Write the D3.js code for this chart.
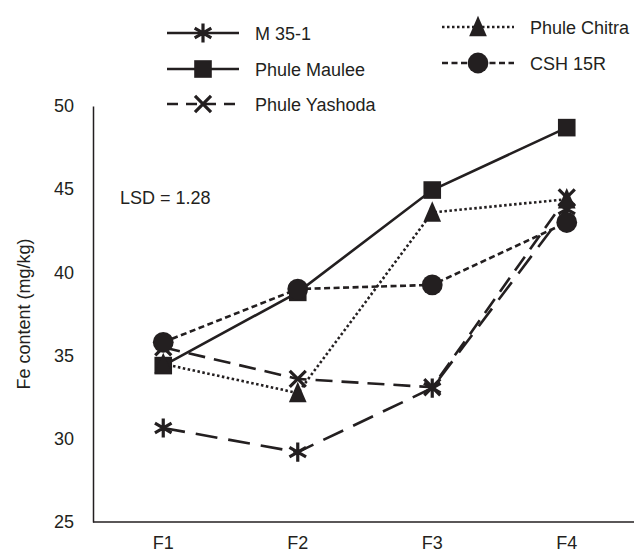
<!DOCTYPE html>
<html>
<head>
<meta charset="utf-8">
<script src="https://cdn.jsdelivr.net/npm/d3@7"></script>
<style>
  body { margin: 0; background: #fff; }
  text { font-family: "Liberation Sans", Arial, sans-serif; fill: #231f20; }
</style>
</head>
<body>
<div id="chart"></div>
<script>
var categories = ["F1", "F2", "F3", "F4"];
var seriesNames = ["M 35-1", "Phule Maulee", "Phule Yashoda", "Phule Chitra", "CSH 15R"];
var m351 = [30.65, 29.2, 33.05, 43.8];
var phuleMaulee = [34.4, 38.8, 44.95, 48.7];
var phuleYashoda = [35.5, 33.6, 33.1, 44.5];
var phuleChitra = [34.5, 32.75, 43.6, 44.4];
var csh15r = [35.8, 39.0, 39.25, 43.0];
var yTicks = [25, 30, 35, 40, 45, 50];
var lsdLabel = "LSD = 1.28";

var ink = "#231f20";
var fs = 18;

var svg = d3.select("#chart").append("svg")
    .attr("width", 637)
    .attr("height", 555);

var x = d3.scaleBand().domain(categories).range([96, 634]);
var y = d3.scaleLinear().domain([25, 50]).range([522, 106]);

// taller triangle like the excel marker
var tallTriangle = {
    draw: function(context, size) {
        var h = Math.sqrt(size) * 1.45, w = Math.sqrt(size) * 1.25;
        context.moveTo(0, -h * 0.55);
        context.lineTo(w / 2, h * 0.45);
        context.lineTo(-w / 2, h * 0.45);
        context.closePath();
    }
};

var styles = [
    {dash: "22,11", legendDash: null, sym: d3.symbolAsterisk, size: 260, stroke: true},
    {dash: null, legendDash: null, sym: d3.symbolSquare, size: 310, stroke: false},
    {dash: "17,9", legendDash: "11,8", sym: d3.symbolTimes, size: 170, stroke: true},
    {dash: "2.5,2.5", legendDash: "2.5,2.5", sym: tallTriangle, size: 200, stroke: false},
    {dash: "6,3.5", legendDash: "6,3.5", sym: d3.symbolCircle, size: 340, stroke: false}
];
var values = [m351, phuleMaulee, phuleYashoda, phuleChitra, csh15r];

// axes
svg.append("g")
    .attr("transform", "translate(93,0)")
    .call(d3.axisLeft(y).tickValues(yTicks).tickSize(0).tickPadding(19).tickFormat(d3.format("d")))
    .call(function(g) {
        g.select(".domain").attr("stroke", ink).attr("stroke-width", 1.5);
        g.selectAll("text").attr("font-size", fs).style("fill", ink);
    });

svg.append("line")
    .attr("x1", 93).attr("x2", 634)
    .attr("y1", y(25)).attr("y2", y(25))
    .attr("stroke", ink).attr("stroke-width", 1.5);

svg.append("g")
    .attr("transform", "translate(0," + y(25) + ")")
    .call(d3.axisBottom(x).tickSize(0).tickPadding(14))
    .call(function(g) {
        g.select(".domain").remove();
        g.selectAll("text").attr("font-size", fs).style("fill", ink);
    });

svg.append("text")
    .attr("transform", "translate(30," + ((y(25) + y(50)) / 2) + ") rotate(-90)")
    .attr("text-anchor", "middle")
    .attr("font-size", fs)
    .text("Fe content (mg/kg)");

svg.append("text")
    .attr("x", 120).attr("y", 204)
    .attr("font-size", fs)
    .text(lsdLabel);

// lines
var line = d3.line()
    .x(function(d, i) { return x(categories[i]) + x.bandwidth() / 2; })
    .y(function(d) { return y(d); });

function drawMarker(g, st) {
    var p = g.append("path").attr("d", d3.symbol().type(st.sym).size(st.size)());
    if (st.stroke) p.attr("fill", "none").attr("stroke", ink).attr("stroke-width", 3.2);
    else p.attr("fill", ink);
    return p;
}

values.forEach(function(vals, s) {
    var st = styles[s];
    svg.append("path")
        .datum(vals)
        .attr("fill", "none")
        .attr("stroke", ink)
        .attr("stroke-width", 2.6)
        .attr("stroke-dasharray", st.dash)
        .attr("d", line);
});

values.forEach(function(vals, s) {
    var st = styles[s];
    vals.forEach(function(v, i) {
        var g = svg.append("g")
            .attr("transform", "translate(" + (x(categories[i]) + x.bandwidth() / 2) + "," + y(v) + ")");
        drawMarker(g, st);
    });
});

// legend
var legendPos = [
    {x: 167, y: 33}, {x: 167, y: 69}, {x: 167, y: 104},
    {x: 442, y: 27}, {x: 442, y: 63}
];
seriesNames.forEach(function(name, s) {
    var st = styles[s];
    var p = legendPos[s];
    var g = svg.append("g").attr("transform", "translate(" + p.x + "," + p.y + ")");
    g.append("line")
        .attr("x1", 0).attr("x2", 72)
        .attr("stroke", ink).attr("stroke-width", 2.6)
        .attr("stroke-dasharray", st.legendDash);
    drawMarker(g.append("g").attr("transform", "translate(36,0)"), st);
    g.append("text")
        .attr("x", 88).attr("y", 7)
        .attr("font-size", fs)
        .text(name);
});
</script>
</body>
</html>
